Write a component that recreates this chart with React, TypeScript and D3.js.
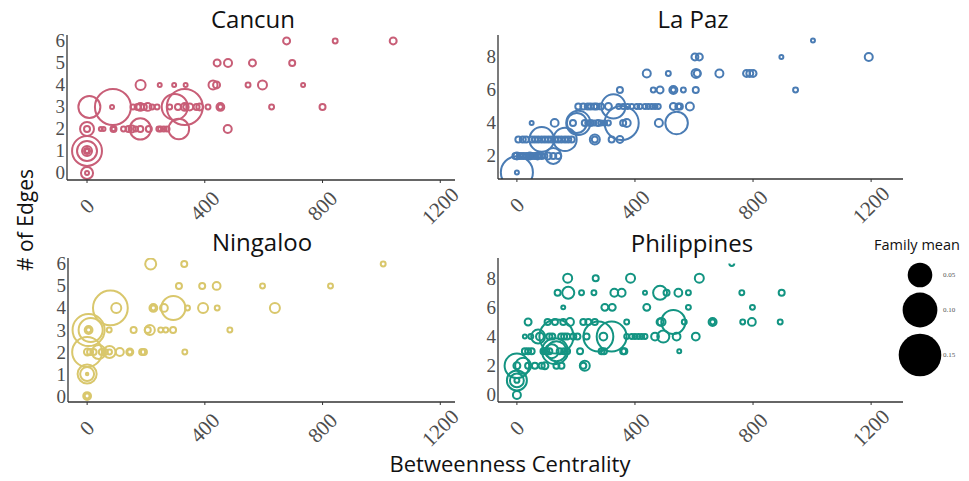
import React from "react";
import * as d3 from "d3";

type Pt = [number, number, number]; // [betweenness, edges, family mean]

const cancun: Pt[] = [
  [0, 0, 0.012], [0, 0, 0.0013],
  [0, 1, 0.074], [0, 1, 0.033], [0, 1, 0.0083], [0, 1, 0.003], [0, 1, 0.0013],
  [0, 2, 0.016], [0, 2, 0.003],
  [8, 3, 0.04], [88, 3, 0.107], [85, 3, 0.0013],
  [156, 3, 0.002], [172, 3, 0.003], [181, 3, 0.005], [193, 3, 0.003], [206, 3, 0.005], [221, 3, 0.002], [238, 3, 0.002],
  [298, 3, 0.056], [332, 3, 0.107],
  [281, 3, 0.002], [309, 3, 0.003], [332, 3, 0.005], [335, 3, 0.002], [349, 3, 0.004], [372, 3, 0.003], [383, 3, 0.004], [411, 3, 0.002],
  [453, 3, 0.005], [453, 3, 0.002], [627, 3, 0.002], [800, 3, 0.003],
  [47, 2, 0.0013], [56, 2, 0.0013], [90, 2, 0.003], [90, 2, 0.0013], [124, 2, 0.002], [141, 2, 0.003], [153, 2, 0.004],
  [181, 2, 0.037], [181, 2, 0.003], [165, 2, 0.002], [210, 2, 0.003], [244, 2, 0.002], [250, 2, 0.002], [261, 2, 0.002], [272, 2, 0.002],
  [312, 2, 0.035], [478, 2, 0.0053],
  [182, 4, 0.0083], [247, 4, 0.0013], [296, 4, 0.0013], [335, 4, 0.0013], [428, 4, 0.0067], [440, 4, 0.004], [547, 4, 0.002], [596, 4, 0.0067], [734, 4, 0.0013],
  [442, 5, 0.004], [479, 5, 0.0053], [562, 5, 0.004], [697, 5, 0.003],
  [678, 6, 0.004], [843, 6, 0.002], [1040, 6, 0.004],
];

const laPaz: Pt[] = [
  [0, 1, 0.085], [0, 1, 0.0013],
  [-5, 2, 0.003], [0, 2, 0.004], [10, 2, 0.003], [15, 2, 0.002], [21, 2, 0.003], [27, 2, 0.002], [33, 2, 0.003], [38, 2, 0.002], [44, 2, 0.004],
  [50, 2, 0.003], [55, 2, 0.002], [61, 2, 0.003], [70, 2, 0.004], [75, 2, 0.002], [84, 2, 0.003], [95, 2, 0.002], [106, 2, 0.004],
  [123, 2, 0.003], [123, 2, 0.021], [140, 2, 0.003],
  [5, 3, 0.003], [20, 3, 0.003], [31, 3, 0.003], [50, 3, 0.003], [61, 3, 0.003], [72, 3, 0.003], [84, 3, 0.003], [95, 3, 0.003],
  [106, 3, 0.003], [117, 3, 0.003], [129, 3, 0.003], [140, 3, 0.003], [151, 3, 0.003], [163, 3, 0.003], [174, 3, 0.003], [186, 3, 0.003],
  [84, 3, 0.05], [163, 3, 0.045], [264, 3, 0.0083], [264, 3, 0.003], [321, 3, 0.003], [349, 3, 0.004],
  [50, 4, 0.0013], [128, 4, 0.005], [208, 4, 0.048], [203, 4, 0.033],
  [190, 4, 0.003], [230, 4, 0.003], [240, 4, 0.002], [250, 4, 0.003], [262, 4, 0.002], [275, 4, 0.003], [285, 4, 0.002], [297, 4, 0.002], [310, 4, 0.002],
  [355, 4, 0.096], [372, 4, 0.0053], [360, 4, 0.003], [481, 4, 0.0053], [541, 4, 0.042],
  [208, 5, 0.003], [225, 5, 0.003], [240, 5, 0.003], [250, 5, 0.003], [262, 5, 0.003], [270, 5, 0.003], [285, 5, 0.003], [310, 5, 0.004],
  [327, 5, 0.048], [345, 5, 0.002], [360, 5, 0.002], [375, 5, 0.002],
  [389, 5, 0.002], [406, 5, 0.002], [417, 5, 0.002], [434, 5, 0.002], [445, 5, 0.002], [457, 5, 0.002], [468, 5, 0.002], [479, 5, 0.002],
  [530, 5, 0.004], [547, 5, 0.003], [552, 5, 0.003], [586, 5, 0.0053],
  [349, 6, 0.003], [462, 6, 0.002], [485, 6, 0.004], [530, 6, 0.0053], [530, 6, 0.002], [564, 6, 0.002], [606, 6, 0.003], [944, 6, 0.002],
  [440, 7, 0.0053], [513, 7, 0.002], [607, 7, 0.0067], [611, 7, 0.004], [686, 7, 0.0053], [778, 7, 0.004], [789, 7, 0.004], [800, 7, 0.004],
  [603, 8, 0.004], [618, 8, 0.004], [896, 8, 0.0013], [1192, 8, 0.0053],
  [1003, 9, 0.0013],
];

const ningaloo: Pt[] = [
  [0, 0, 0.005], [0, 0, 0.002],
  [0, 1, 0.03], [0, 1, 0.016], [0, 1, 0.0005],
  [0, 2, 0.074], [1, 2, 0.004], [10, 2, 0.003], [22, 2, 0.003], [39, 2, 0.016], [50, 2, 0.003], [60, 2, 0.003], [76, 2, 0.012], [76, 2, 0.002],
  [111, 2, 0.0053], [145, 2, 0.004], [145, 2, 0.002], [187, 2, 0.003], [193, 2, 0.003], [332, 2, 0.002],
  [5, 3, 0.085], [12, 3, 0.048], [5, 3, 0.005], [5, 3, 0.002], [75, 3, 0.002], [158, 3, 0.003], [206, 3, 0.003], [213, 3, 0.0083],
  [250, 3, 0.002], [267, 3, 0.002], [292, 3, 0.003], [485, 3, 0.002],
  [79, 4, 0.1], [99, 4, 0.0083], [225, 4, 0.005], [225, 4, 0.002], [261, 4, 0.005], [293, 4, 0.048], [341, 4, 0.002], [394, 4, 0.0083], [442, 4, 0.002], [638, 4, 0.0083],
  [312, 5, 0.003], [391, 5, 0.003], [440, 5, 0.005], [596, 5, 0.002], [827, 5, 0.002],
  [216, 6, 0.01], [330, 6, 0.003], [1006, 6, 0.002],
];

const philippines: Pt[] = [
  [0, 0, 0.0053],
  [0, 1, 0.033], [0, 1, 0.016], [0, 1, 0.002],
  [0, 2, 0.05], [21, 2, 0.021], [0, 2, 0.004], [38, 2, 0.003], [61, 2, 0.003], [84, 2, 0.003], [95, 2, 0.004], [134, 2, 0.003], [151, 2, 0.003],
  [230, 2, 0.0083], [225, 2, 0.003],
  [27, 3, 0.003], [38, 3, 0.003], [50, 3, 0.003], [129, 3, 0.056], [134, 3, 0.033], [118, 3, 0.016],
  [90, 3, 0.003], [100, 3, 0.003], [110, 3, 0.003], [145, 3, 0.003], [160, 3, 0.003], [170, 3, 0.003],
  [214, 3, 0.003], [287, 3, 0.003], [295, 3, 0.003], [360, 3, 0.003], [364, 3, 0.003], [550, 3, 0.0013],
  [27, 4, 0.0013], [47, 4, 0.002], [72, 4, 0.016], [78, 4, 0.005], [134, 4, 0.096],
  [110, 4, 0.003], [120, 4, 0.003], [150, 4, 0.003], [160, 4, 0.003], [170, 4, 0.003], [191, 4, 0.003], [205, 4, 0.003], [236, 4, 0.003],
  [276, 4, 0.074], [293, 4, 0.005], [321, 4, 0.074],
  [372, 4, 0.002], [389, 4, 0.002], [400, 4, 0.002], [412, 4, 0.002], [423, 4, 0.002], [434, 4, 0.002],
  [468, 4, 0.005], [496, 4, 0.012], [541, 4, 0.005], [606, 4, 0.005],
  [38, 5, 0.004], [104, 5, 0.003], [129, 5, 0.003], [157, 5, 0.003], [180, 5, 0.005], [225, 5, 0.003], [242, 5, 0.003], [264, 5, 0.003],
  [372, 5, 0.002], [485, 5, 0.004], [490, 5, 0.0053], [530, 5, 0.048], [567, 5, 0.002], [663, 5, 0.0053], [663, 5, 0.002],
  [765, 5, 0.002], [796, 5, 0.005], [892, 5, 0.002],
  [157, 6, 0.0013], [298, 6, 0.004], [323, 6, 0.004], [440, 6, 0.004], [581, 6, 0.002], [798, 6, 0.002],
  [138, 7, 0.003], [174, 7, 0.012], [219, 7, 0.002], [261, 7, 0.002], [330, 7, 0.005], [355, 7, 0.005], [434, 7, 0.0013],
  [485, 7, 0.016], [507, 7, 0.003], [547, 7, 0.005], [581, 7, 0.002], [762, 7, 0.002], [897, 7, 0.003],
  [172, 8, 0.0067], [267, 8, 0.003], [385, 8, 0.0067], [618, 8, 0.0067],
  [728, 9, 0.002],
];

const xTicks = [0, 400, 800, 1200];
const yTicksSmall = [0, 1, 2, 3, 4, 5, 6];
const yTicksLarge = [2, 4, 6, 8];
const yTicksLargeZero = [0, 2, 4, 6, 8];
const legendValues = [0.05, 0.1, 0.15];

const panels = [
  { id: "cancun", name: "Cancun", data: cancun, color: "#c85e77", left: 67, right: 455, top: 35, clipTop: 35, bottom: 180, xDom: [-68, 1250], yDom: [-0.32, 6.27], yTicks: yTicksSmall, titleX: 253, titleY: 28 },
  { id: "lapaz", name: "La Paz", data: laPaz, color: "#4a7cb4", left: 498, right: 903, top: 35, clipTop: 35, bottom: 179, xDom: [-64, 1308], yDom: [0.6, 9.33], yTicks: yTicksLarge, titleX: 693, titleY: 28 },
  { id: "ningaloo", name: "Ningaloo", data: ningaloo, color: "#d9c76c", left: 68, right: 455, top: 258, clipTop: 258, bottom: 402, xDom: [-65, 1250], yDom: [-0.27, 6.27], yTicks: yTicksSmall, titleX: 262, titleY: 251 },
  { id: "phil", name: "Philippines", data: philippines, color: "#139482", left: 498, right: 903, top: 258, clipTop: 263.5, bottom: 402, xDom: [-64, 1308], yDom: [-0.48, 9.38], yTicks: yTicksLargeZero, titleX: 692, titleY: 252 },
];

const size = d3.scaleSqrt().domain([0, 0.16]).range([0, 22]);

const SERIF = "'Liberation Serif', 'DejaVu Serif', serif";
const SANS = "'Open Sans', 'Noto Sans', sans-serif";

export default function App() {
  return (
    <svg width={969} height={481} style={{ position: "absolute", left: 0, top: 0, background: "#fff" }}>
      <rect width={969} height={481} fill="#fff" />
      <defs>
        {panels.map((p) => (
          <clipPath id={`clip-${p.id}`} key={p.id}>
            <rect x={p.left} y={p.clipTop} width={p.right - p.left} height={p.bottom - p.clipTop} />
          </clipPath>
        ))}
      </defs>
      {panels.map((p) => {
        const x = d3.scaleLinear().domain(p.xDom).range([p.left, p.right]);
        const y = d3.scaleLinear().domain(p.yDom).range([p.bottom, p.top]);
        const sorted = [...p.data].sort((a, b) => b[2] - a[2]);
        return (
          <g key={p.id}>
            <text x={p.titleX} y={p.titleY} textAnchor="middle" fontFamily={SANS} fontSize={24} fill="#111">
              {p.name}
            </text>
            <g clipPath={`url(#clip-${p.id})`}>
              {sorted.map((d, i) => (
                <circle key={i} cx={x(d[0])} cy={y(d[1])} r={Math.max(size(d[2]), 1.2)} fill="none" stroke={p.color} strokeWidth={2} />
              ))}
            </g>
            <line x1={p.left} x2={p.left} y1={p.top} y2={p.bottom} stroke="#333" strokeWidth={1.3} />
            <line x1={p.left} x2={p.right} y1={p.bottom} y2={p.bottom} stroke="#333" strokeWidth={1.3} />
            {p.yTicks.map((t) => (
              <text key={t} x={p.left - 2} y={y(t)} textAnchor="end" dominantBaseline="central" fontFamily={SERIF} fontSize={19} fill="#4d4d4d">
                {t}
              </text>
            ))}
            {xTicks.map((t) => (
              <g key={t}>
                <line x1={x(t)} x2={x(t)} y1={p.bottom} y2={p.bottom + 3} stroke="#333" strokeWidth={1} />
                <text
                  transform={`translate(${x(t)},${p.bottom + 26}) rotate(-45)`}
                  textAnchor="middle"
                  dominantBaseline="central"
                  fontFamily={SERIF}
                  fontSize={21}
                  fill="#4d4d4d"
                >
                  {t}
                </text>
              </g>
            ))}
          </g>
        );
      })}
      <text transform="translate(25,220) rotate(-90)" textAnchor="middle" dominantBaseline="central" fontFamily={SANS} fontSize={21} fill="#111">
        # of Edges
      </text>
      <text x={510} y={472} textAnchor="middle" fontFamily={SANS} fontSize={22} fill="#111">
        Betweenness Centrality
      </text>
      <text x={917} y={250} textAnchor="middle" fontFamily={SANS} fontSize={14.5} fill="#111">
        Family mean
      </text>
      {legendValues.map((v, i) => {
        const cy = [275, 310, 355][i];
        return (
          <g key={v}>
            <circle cx={920} cy={cy} r={size(v)} fill="#000" />
            <text x={943} y={cy} dominantBaseline="central" fontFamily={SERIF} fontSize={7} fill="#555">
              {v.toFixed(2)}
            </text>
          </g>
        );
      })}
    </svg>
  );
}
